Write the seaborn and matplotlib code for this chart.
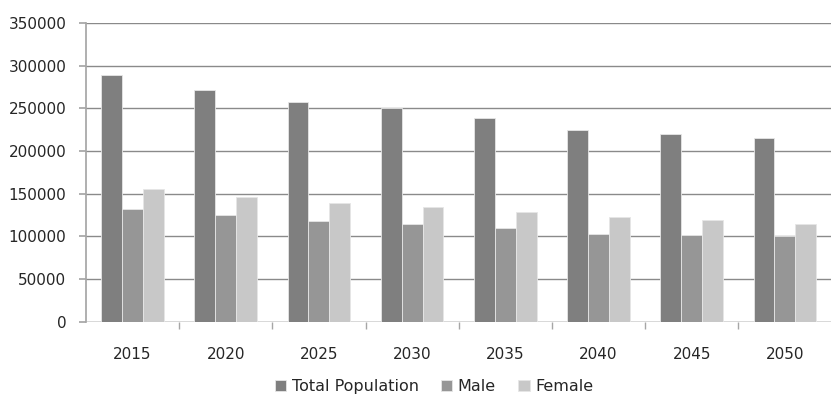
import seaborn as sns
import pandas as pd
import matplotlib.pyplot as plt
from matplotlib.ticker import FixedLocator, NullFormatter

# values
years = ['2015', '2020', '2025', '2030', '2035', '2040', '2045', '2050']
total = [288800, 271200, 257900, 250100, 238400, 224700, 220300, 215300]
male = [131900, 124900, 117900, 114700, 110400, 102600, 101800, 100300]
female = [155700, 146300, 139300, 134200, 128800, 123300, 119000, 114700]
series = ['Total Population', 'Male', 'Female']
colors = ['#7f7f7f', '#969696', '#c8c8c8']

df = pd.DataFrame({'Year': years, 'Total Population': total,
                   'Male': male, 'Female': female})
df = df.melt(id_vars='Year', var_name='Series', value_name='Value')

sns.set_theme(style="white")
plt.rcParams['font.family'] = ['DejaVu Sans']

fig, ax = plt.subplots(figsize=(8.34, 3.94), dpi=100)
fig.subplots_adjust(left=0.103, right=0.997, bottom=0.183, top=0.942)

sns.barplot(data=df, x='Year', y='Value', hue='Series', hue_order=series,
            order=years, palette=colors, width=0.67, gap=0,
            edgecolor='#e6e6e6', linewidth=0.6, ax=ax)

ax.set_ylim(0, 350000)
ax.set_xlim(-0.5, len(years) - 0.5)
ax.set_yticks(range(0, 350001, 50000))
ax.set_yticklabels([str(v) for v in range(0, 350001, 50000)])
ax.yaxis.grid(True, color='#8a8a8a', linewidth=1.0)
ax.set_axisbelow(True)

for side in ['top', 'right', 'bottom']:
    ax.spines[side].set_visible(False)
ax.spines['left'].set_color('#a6a6a6')
ax.axhline(0, color='#a6a6a6', linewidth=1.0, zorder=0)

ax.tick_params(axis='y', which='major', left=True, length=5, color='#a6a6a6',
               labelsize=11, labelcolor='#262626', pad=9)
ax.tick_params(axis='x', which='major', bottom=False, labelsize=11,
               labelcolor='#262626', pad=12)
ax.xaxis.set_minor_locator(FixedLocator([i + 0.5 for i in range(len(years) - 1)]))
ax.xaxis.set_minor_formatter(NullFormatter())
ax.tick_params(axis='x', which='minor', bottom=True, length=5, color='#a6a6a6')

ax.set_xlabel('')
ax.set_ylabel('')

leg = ax.legend(loc='center', bbox_to_anchor=(0.467, -0.215), ncol=3,
                frameon=False, fontsize=11.5, handlelength=0.7,
                handleheight=0.7, columnspacing=1.4, handletextpad=0.35)
for t in leg.get_texts():
    t.set_color('#262626')

fig.savefig('out.png', dpi=100)
